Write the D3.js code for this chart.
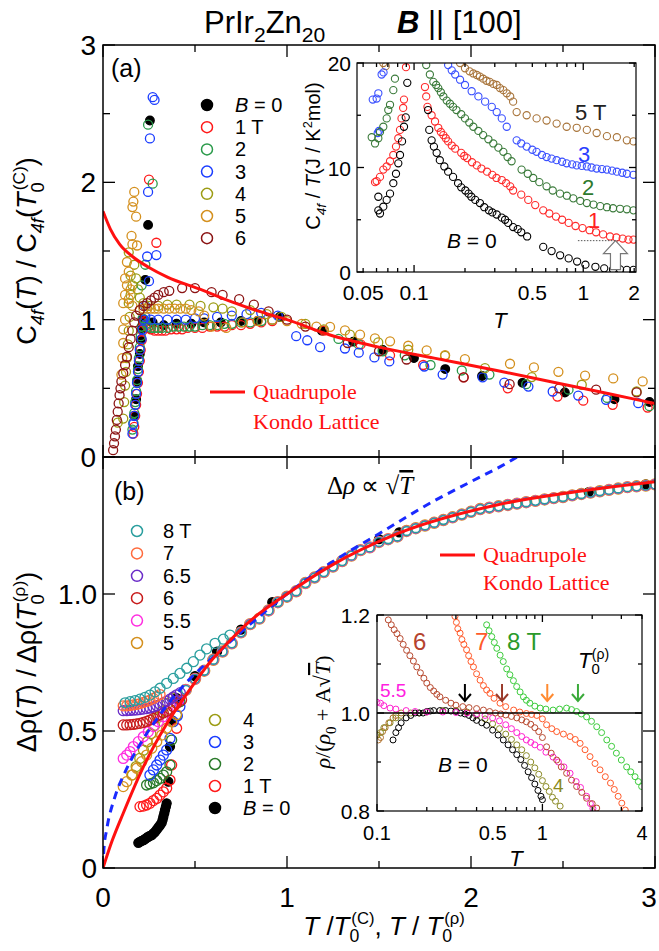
<!DOCTYPE html>
<html>
<head>
<meta charset="utf-8" />
<title>PrIr2Zn20</title>
<script src="https://d3js.org/d3.v7.min.js"></script>
<style>
  body { margin: 0; background: white; }
  svg text { font-family: "Liberation Sans", Arial, sans-serif; }
  .serif { font-family: "Liberation Serif", "Times New Roman", serif; }
</style>
</head>
<body>
<svg id="viz" width="659" height="951"></svg>
<script>

// ---------- panel (a): C4f(T)/C4f(T0) vs T/T0 ----------
var capB0 = [[0.17,0.3],[0.18,0.42],[0.185,0.55],[0.19,0.66],[0.2,0.75],[0.205,0.85],[0.21,0.93],[0.215,1.0],[0.23,1.29],
  [0.245,1.69],[0.255,2.45],[0.27,0.98],[0.33,0.96],[0.4,0.97],[0.48,0.97],[0.55,0.98],[0.64,0.98],[0.75,0.99],[0.84,0.99],
  [0.96,1.02],[1.19,0.92],[1.36,0.84],[1.52,0.78],[1.69,0.72],[1.86,0.64],[2.06,0.59],[2.28,0.54],[2.51,0.47],[2.78,0.42],[2.97,0.4]];
var cap1T = [[0.165,0.17],[0.17,0.22],[0.175,0.3],[0.18,0.38],[0.185,0.46],[0.19,0.54],[0.195,0.62],[0.2,0.7],[0.205,0.78],
  [0.21,0.85],[0.215,0.92],[0.22,0.98],[0.25,2.02],[0.29,1.56],[0.225,0.99],[0.235,0.96],[0.245,0.94],[0.26,0.93],[0.28,0.92],
  [0.3,0.92],[0.32,0.92],[0.34,0.92],[0.37,0.93],[0.4,0.93],[0.43,0.93],[0.46,0.94],[0.5,0.94],[0.54,0.94],[0.58,0.95],
  [0.62,0.95],[0.66,0.95],[0.7,0.96],[0.75,0.96],[0.8,0.97],[0.86,0.98],[0.92,0.99],[1.2,0.92],[1.4,0.82],[1.56,0.74],
  [1.74,0.67],[1.96,0.58],[2.2,0.5],[2.47,0.44],[2.61,0.41],[2.77,0.38],[2.96,0.36]];
var cap2T = [[0.16,0.2],[0.165,0.25],[0.17,0.32],[0.175,0.4],[0.18,0.48],[0.185,0.56],[0.19,0.64],[0.195,0.72],[0.2,0.8],
  [0.205,0.88],[0.21,0.95],[0.215,1.01],[0.245,2.42],[0.27,1.99],[0.23,1.4],[0.21,1.25],[0.225,1.0],[0.235,0.97],[0.245,0.95],
  [0.26,0.94],[0.28,0.94],[0.3,0.94],[0.32,0.94],[0.35,0.94],[0.38,0.95],[0.41,0.95],[0.44,0.95],[0.47,0.95],[0.5,0.95],
  [0.54,0.96],[0.58,0.96],[0.62,0.96],[0.66,0.97],[0.7,0.97],[0.75,0.98],[0.8,0.98],[0.86,0.99],[0.92,1.0],[1.28,0.86],
  [1.39,0.82],[1.52,0.77],[1.64,0.74],[1.78,0.67],[1.95,0.63],[2.1,0.6],[2.3,0.53],[2.53,0.49],[2.74,0.43],[2.97,0.37]];
var cap3T = [[0.16,0.17],[0.165,0.24],[0.17,0.3],[0.175,0.38],[0.18,0.46],[0.185,0.54],[0.19,0.62],[0.195,0.7],[0.2,0.78],
  [0.21,0.86],[0.215,0.93],[0.22,1.0],[0.27,2.62],[0.28,2.6],[0.255,2.32],[0.245,1.93],[0.24,1.46],[0.29,1.47],[0.25,1.28],
  [0.23,1.1],[0.23,1.02],[0.26,1.0],[0.3,1.0],[0.35,1.0],[0.4,1.0],[0.45,1.0],[0.5,1.01],[0.55,1.01],[0.62,1.02],[0.7,1.03],
  [0.78,1.04],[0.86,1.05],[0.95,1.03],[1.05,0.88],[1.11,0.85],[1.18,0.8],[1.315,0.79],[1.39,0.76],[1.475,0.725],[1.556,0.696],
  [1.746,0.659],[1.846,0.6],[2.063,0.58],[2.181,0.542],[2.312,0.513],[2.444,0.477],[2.583,0.447],[2.734,0.416],[2.909,0.392]];
var cap4T = [[0.08,0.25],[0.11,0.28],[0.115,0.4],[0.12,0.52],[0.125,0.62],[0.13,0.72],[0.135,0.82],[0.14,0.92],[0.145,1.02],
  [0.14,1.12],[0.15,1.18],[0.16,1.25],[0.15,1.32],[0.14,1.49],[0.17,1.4],[0.18,1.3],[0.19,1.22],[0.2,1.16],[0.22,1.12],
  [0.25,1.1],[0.3,1.1],[0.35,1.11],[0.4,1.11],[0.47,1.11],[0.53,1.1],[0.6,1.09],[0.65,1.08],[0.7,1.06],[0.8,1.07],[0.89,1.04],
  [0.97,1.02],[1.1,0.97],[1.2,0.93],[1.342,0.891],[1.496,0.834],[1.659,0.781],[1.859,0.737],[2.076,0.647],[2.33,0.582],
  [2.602,0.526],[2.9,0.477]];
var cap5T = [[0.17,1.93],[0.165,1.86],[0.16,1.82],[0.18,1.75],[0.155,1.61],[0.16,1.55],[0.185,1.54],[0.13,1.42],[0.14,1.35],
  [0.12,1.3],[0.13,1.25],[0.12,1.18],[0.11,1.12],[0.14,1.15],[0.15,1.22],[0.16,1.1],[0.1,0.6],[0.105,0.72],[0.11,0.83],
  [0.11,0.93],[0.12,1.0],[0.2,1.07],[0.22,1.08],[0.24,1.08],[0.26,1.08],[0.28,1.08],[0.3,1.08],[0.33,1.08],[0.36,1.08],
  [0.39,1.08],[0.42,1.08],[0.45,1.08],[0.48,1.07],[0.52,1.06],[0.55,1.03],[0.59,0.95],[0.67,0.94],[0.76,0.98],[0.84,0.99],
  [0.92,1.0],[1.0,0.99],[1.08,0.97],[1.16,0.95],[1.234,0.947],[1.315,0.922],[1.397,0.891],[1.478,0.864],[1.56,0.842],
  [1.659,0.81],[1.759,0.776],[1.859,0.742],[1.967,0.713],[2.212,0.679],[2.342,0.652],[2.475,0.62],[2.62,0.593],
  [2.773,0.572],[2.933,0.55]];
var cap6T = [[0.055,0.05],[0.06,0.1],[0.065,0.15],[0.07,0.2],[0.075,0.27],[0.08,0.33],[0.085,0.39],[0.09,0.45],[0.095,0.5],
  [0.1,0.55],[0.11,0.61],[0.12,0.67],[0.13,0.73],[0.14,0.8],[0.15,0.86],[0.16,0.92],[0.17,0.98],[0.18,1.03],[0.2,1.07],
  [0.22,1.1],[0.24,1.12],[0.26,1.14],[0.28,1.16],[0.3,1.18],[0.33,1.2],[0.36,1.21],[0.43,1.23],[0.5,1.23],[0.59,1.2],
  [0.65,1.18],[0.74,1.15],[0.82,1.11],[0.9,1.06],[1.0,1.0],[1.1,0.95],[1.33,0.83],[1.5,0.77],[1.65,0.71],[1.96,0.58],
  [2.21,0.53],[2.48,0.5],[2.68,0.49],[2.9,0.47]];
var qklA = [[0,1.79],[0.04,1.66],[0.09,1.55],[0.16,1.46],[0.25,1.38],[0.35,1.31],[0.53,1.22],[0.7,1.13],[0.85,1.06],
  [1.0,1.0],[1.23,0.89],[1.5,0.8],[1.8,0.72],[2.14,0.63],[2.5,0.53],[2.75,0.46],[3.0,0.39]];

// ---------- inset (a): C4f/T vs T ----------
var insA_B0 = [[0.0615,7.2],[0.0615,5.9],[0.0629,5.6],[0.0658,6.25],[0.0689,6.9],[0.0721,7.5],[0.0754,8.5],[0.0782,9.4],
  [0.0807,10.4],[0.0826,11.2],[0.0849,12.5],[0.0872,13.9],[0.0893,14.8],[0.0912,18.1],[0.121,15.5],[0.123,13.6],[0.127,12.6],
  [0.131,12.0],[0.136,11.4],[0.142,10.7],[0.151,10.1],[0.159,9.6],[0.17,9.1],[0.182,8.5],[0.19,8.1],[0.201,7.8],[0.21,7.5],
  [0.218,7.2],[0.23,6.9],[0.245,6.6],[0.26,6.2],[0.277,5.9],[0.29,5.7],[0.308,5.5],[0.33,5.2],[0.345,5.0],[0.36,4.7],
  [0.385,4.3],[0.41,4.1],[0.43,3.8],[0.466,3.4],[0.58,2.4],[0.65,2.0],[0.73,1.6],[0.82,1.3],[0.92,1.0],[1.03,0.7],
  [1.18,0.5],[1.33,0.35],[1.5,0.25],[1.65,0.25],[1.81,0.2],[1.98,0.2]];
var insA_1T = [[0.0588,8.6],[0.0601,8.7],[0.0629,9.1],[0.0658,9.8],[0.0689,10.1],[0.0721,10.6],[0.0754,11.2],[0.0782,12.0],
  [0.0807,12.8],[0.0826,13.6],[0.0843,14.7],[0.0862,15.7],[0.0872,16.5],[0.0896,19.6],[0.116,17.7],[0.118,16.8],[0.12,15.8],
  [0.127,15.0],[0.133,14.4],[0.139,13.8],[0.144,13.4],[0.149,13.1],[0.154,12.8],[0.159,12.5],[0.167,12.1],[0.175,11.8],
  [0.19,11.4],[0.198,11.1],[0.206,10.9],[0.22,10.5],[0.235,10.2],[0.25,9.9],[0.27,9.6],[0.29,9.3],[0.307,9.0],[0.33,8.8],
  [0.35,8.5],[0.37,8.2],[0.385,7.8],[0.43,7.4],[0.473,6.9],[0.52,6.4],[0.58,5.9],[0.63,5.6],[0.69,5.3],[0.75,5.0],
  [0.82,4.7],[0.9,4.4],[0.99,4.2],[1.09,4.0],[1.19,3.8],[1.31,3.6],[1.44,3.4],[1.57,3.3],[1.71,3.2],[1.85,3.1],[1.98,3.1]];
var insA_2T = [[0.0562,12.9],[0.0588,12.3],[0.0615,12.8],[0.0629,13.4],[0.0658,13.9],[0.0689,14.7],[0.0704,15.5],
  [0.0721,16.0],[0.0754,17.4],[0.0771,18.5],[0.118,19.8],[0.124,18.9],[0.13,18.2],[0.135,17.9],[0.139,17.6],[0.144,17.2],
  [0.149,16.8],[0.156,16.4],[0.163,16.1],[0.17,15.8],[0.178,15.5],[0.19,15.1],[0.2,14.7],[0.212,14.3],[0.224,13.9],
  [0.24,13.5],[0.256,13.1],[0.275,12.7],[0.294,12.3],[0.315,11.9],[0.337,11.5],[0.357,11.0],[0.377,10.6],[0.432,9.8],
  [0.47,9.4],[0.506,9.0],[0.55,8.6],[0.607,8.2],[0.66,7.8],[0.729,7.5],[0.8,7.3],[0.873,7.05],[0.96,6.8],[1.05,6.6],
  [1.15,6.45],[1.26,6.3],[1.38,6.2],[1.5,6.1],[1.65,6.05],[1.81,6.0],[1.98,5.9]];
var insA_3T = [[0.057,16.5],[0.0601,16.6],[0.0615,17.1],[0.0643,18.9],[0.066,19.1],[0.061,13.3],[0.062,13.5],
  [0.159,19.8],[0.167,19.3],[0.175,18.9],[0.187,18.4],[0.2,17.9],[0.219,17.3],[0.24,16.8],[0.263,16.3],[0.288,15.8],
  [0.308,15.3],[0.33,14.7],[0.353,13.9],[0.404,12.6],[0.43,12.3],[0.463,12.0],[0.5,11.7],[0.53,11.5],[0.57,11.2],
  [0.607,11.0],[0.65,10.85],[0.696,10.7],[0.75,10.55],[0.798,10.4],[0.86,10.3],[0.915,10.2],[0.98,10.15],[1.05,10.1],
  [1.12,10.0],[1.2,9.9],[1.29,9.85],[1.38,9.8],[1.48,9.7],[1.58,9.6],[1.7,9.5],[1.81,9.4],[1.98,9.3]];
var insA_5T = [[0.0658,20.0],[0.068,19.7],[0.187,20.0],[0.2,19.5],[0.213,19.2],[0.224,19.0],[0.235,18.85],[0.245,18.7],
  [0.256,18.5],[0.268,18.3],[0.28,18.2],[0.294,18.0],[0.308,17.9],[0.322,17.6],[0.337,17.4],[0.353,17.1],[0.37,16.8],
  [0.385,16.3],[0.404,15.3],[0.463,15.0],[0.53,14.7],[0.607,14.5],[0.696,14.2],[0.798,13.9],[0.915,13.8],[1.05,13.6],
  [1.2,13.3],[1.38,13.0],[1.58,12.9],[1.81,12.6],[1.98,12.5]];

// ---------- panel (b): Δρ(T)/Δρ(T0) vs T/T0 ----------
var rhoCollapse = [[0.45,0.65],[0.5,0.69],[0.55,0.72],[0.6,0.76],[0.65,0.79],[0.7,0.82],[0.75,0.86],[0.8,0.89],[0.85,0.91],
  [0.9,0.94],[0.95,0.97],[1.0,0.99],[1.05,1.01],[1.1,1.04],[1.15,1.06],[1.2,1.08],[1.25,1.1],[1.3,1.12],[1.35,1.14],
  [1.4,1.16],[1.45,1.17],[1.5,1.19],[1.55,1.2],[1.6,1.21],[1.65,1.23],[1.7,1.24],[1.75,1.25],[1.8,1.26],[1.85,1.27],
  [1.9,1.28],[1.95,1.29],[2.0,1.3],[2.05,1.31],[2.1,1.315],[2.15,1.32],[2.2,1.325],[2.25,1.33],[2.3,1.335],[2.35,1.34],
  [2.4,1.345],[2.45,1.35],[2.5,1.354],[2.55,1.36],[2.6,1.365],[2.65,1.37],[2.7,1.375],[2.75,1.38],[2.8,1.385],[2.85,1.39],
  [2.9,1.393],[2.95,1.396],[3.0,1.4]];
var rhoB0 = [[0.192,0.092],[0.2,0.095],[0.21,0.099],[0.22,0.102],[0.228,0.105],[0.237,0.11],[0.246,0.114],[0.255,0.117],
  [0.265,0.12],[0.274,0.126],[0.283,0.132],[0.292,0.14],[0.301,0.148],[0.31,0.156],[0.319,0.165],[0.324,0.176],[0.328,0.187],
  [0.333,0.2],[0.337,0.212],[0.342,0.224],[0.346,0.236],[0.355,0.315],[0.364,0.443],[0.373,0.54],[0.4,0.62],[0.5,0.7],
  [0.62,0.79],[0.75,0.87],[0.92,0.97],[1.5,1.2],[1.61,1.225],[2.64,1.372],[2.95,1.4]];
var rho1T = [[0.201,0.224],[0.219,0.226],[0.237,0.23],[0.255,0.236],[0.274,0.246],[0.292,0.254],[0.31,0.266],[0.328,0.278],
  [0.346,0.291],[0.364,0.321],[0.373,0.376],[0.4,0.51]];
var rho2T = [[0.237,0.303],[0.255,0.307],[0.274,0.311],[0.292,0.319],[0.31,0.327],[0.328,0.339],[0.346,0.351],[0.364,0.376],
  [0.373,0.467],[0.4,0.558],[0.418,0.607]];
var rho3T = [[0.255,0.339],[0.274,0.358],[0.292,0.376],[0.31,0.394],[0.328,0.412],[0.346,0.431],[0.364,0.473],[0.382,0.534],
  [0.404,0.555],[0.418,0.589]];
var rho4T = [[0.16,0.34],[0.18,0.37],[0.2,0.4],[0.22,0.43],[0.24,0.46],[0.26,0.49],[0.28,0.52],[0.3,0.55],[0.32,0.57],
  [0.35,0.6],[0.38,0.62]];
var rho5T = [[0.11,0.297],[0.129,0.315],[0.156,0.339],[0.183,0.364],[0.21,0.388],[0.237,0.412],[0.265,0.437],[0.292,0.461],
  [0.319,0.485],[0.346,0.51],[0.373,0.534],[0.4,0.56]];
var rho55T = [[0.11,0.4],[0.129,0.412],[0.147,0.425],[0.165,0.443],[0.192,0.461],[0.219,0.479],[0.246,0.497],[0.274,0.516],
  [0.301,0.534],[0.328,0.552],[0.355,0.57],[0.382,0.589],[0.41,0.61]];
var rho6T = [[0.11,0.522],[0.129,0.522],[0.147,0.523],[0.165,0.524],[0.183,0.526],[0.201,0.528],[0.219,0.531],[0.237,0.535],
  [0.255,0.54],[0.274,0.546],[0.292,0.554],[0.31,0.56],[0.328,0.566],[0.346,0.572],[0.364,0.58],[0.382,0.589],[0.4,0.6],
  [0.427,0.613]];
var rho65T = [[0.11,0.574],[0.129,0.574],[0.147,0.575],[0.165,0.576],[0.183,0.577],[0.201,0.578],[0.219,0.58],[0.237,0.582],
  [0.255,0.584],[0.274,0.588],[0.292,0.592],[0.31,0.597],[0.328,0.603],[0.346,0.609],[0.364,0.616],[0.382,0.624],
  [0.4,0.632],[0.42,0.64]];
var rho7T = [[0.11,0.592],[0.129,0.592],[0.147,0.593],[0.165,0.595],[0.183,0.597],[0.201,0.6],[0.219,0.604],[0.237,0.608],
  [0.255,0.613],[0.274,0.619],[0.292,0.626],[0.31,0.633]];
var rho8T = [[0.12,0.603],[0.147,0.607],[0.174,0.611],[0.201,0.616],[0.228,0.623],[0.255,0.631],[0.283,0.643],[0.31,0.656],
  [0.346,0.674],[0.382,0.692],[0.418,0.71],[0.455,0.729],[0.491,0.753],[0.527,0.777],[0.563,0.8],[0.609,0.82],
  [0.654,0.835],[0.69,0.85]];
var qklB = [[0,0],[0.05,0.1],[0.11,0.2],[0.22,0.37],[0.35,0.53],[0.46,0.64],[0.58,0.75],[0.69,0.83],[0.78,0.89],[1.0,1.0],
  [1.23,1.1],[1.6,1.22],[2.14,1.325],[2.59,1.375],[3.0,1.41]];
var sqrtB = [[0,0],[0.005,0.07],[0.02,0.14],[0.065,0.26],[0.12,0.35],[0.2,0.45],[0.31,0.56],[0.43,0.66],[0.6,0.77],
  [0.8,0.89],[1.0,1.0],[1.23,1.11],[1.5,1.22],[1.8,1.34],[2.0,1.41],[2.2,1.48],[2.25,1.5]];

// ---------- inset (b): ρ/(ρ0 + A√T) vs T ----------
var insB_B0 = [[0.125,0.945],[0.13,0.96],[0.135,0.97],[0.14,0.98],[0.15,0.99],[0.16,0.995],[0.17,1.0],[0.18,1.0],[0.19,1.0],
  [0.2,1.003],[0.21,1.004],[0.22,1.005],[0.24,1.005],[0.26,1.005],[0.28,1.004],[0.3,1.003],[0.32,1.0],[0.34,0.998],
  [0.36,0.995],[0.38,0.99],[0.4,0.985],[0.43,0.98],[0.46,0.975],[0.5,0.965],[0.54,0.955],[0.58,0.945],[0.62,0.935],
  [0.66,0.925],[0.7,0.915],[0.74,0.905],[0.78,0.893],[0.82,0.88],[0.86,0.868],[0.9,0.855],[0.94,0.842],[0.98,0.83],[1.0,0.823]];
var insB_4T = [[0.1,0.955],[0.105,0.96],[0.11,0.97],[0.12,0.98],[0.13,0.99],[0.14,0.995],[0.16,1.0],[0.18,1.0],[0.2,1.002],
  [0.25,1.005],[0.3,1.005],[0.35,1.002],[0.4,0.995],[0.45,0.988],[0.5,0.978],[0.55,0.968],[0.6,0.957],[0.65,0.946],
  [0.7,0.935],[0.75,0.925],[0.8,0.913],[0.85,0.9],[0.9,0.888],[0.95,0.875],[1.0,0.862],[1.05,0.85],[1.1,0.84],[1.15,0.828],
  [1.2,0.82],[1.28,0.81]];
var insB_5T = [[0.1,0.955],[0.102,0.945],[0.105,0.95],[0.108,0.962],[0.112,0.97],[0.118,0.98],[0.125,0.99],[0.13,0.995],
  [0.14,1.0]];
var insB_55T = [[0.1,1.022],[0.105,1.02],[0.11,1.015],[0.12,1.01],[0.13,1.008],[0.15,1.005],[0.17,1.003],[0.2,1.002],
  [0.25,1.002],[0.3,1.001],[0.35,1.0],[0.4,0.998],[0.45,0.995],[0.5,0.99],[0.55,0.984],[0.6,0.976],[0.65,0.968],[0.7,0.96],
  [0.75,0.952],[0.8,0.945],[0.85,0.94],[0.9,0.935],[0.97,0.93],[1.05,0.92],[1.16,0.91],[1.25,0.9],[1.35,0.89],[1.47,0.877],
  [1.6,0.86],[1.7,0.848],[1.85,0.83],[1.95,0.815],[2.02,0.805]];
var insB_6T = [[0.117,1.19],[0.122,1.18],[0.127,1.17],[0.132,1.162],[0.138,1.152],[0.144,1.14],[0.151,1.128],[0.158,1.117],
  [0.166,1.106],[0.174,1.094],[0.183,1.082],[0.192,1.071],[0.2,1.061],[0.21,1.052],[0.22,1.045],[0.23,1.038],[0.24,1.033],
  [0.26,1.026],[0.28,1.02],[0.3,1.016],[0.33,1.013],[0.36,1.011],[0.4,1.009],[0.44,1.006],[0.48,1.003],[0.52,1.0],
  [0.56,0.998],[0.6,0.996],[0.65,0.993],[0.7,0.99],[0.75,0.986],[0.8,0.982],[0.85,0.977],[0.9,0.97],[0.95,0.962],[1.0,0.95],
  [1.06,0.931],[1.13,0.918],[1.22,0.904],[1.3,0.89],[1.4,0.877],[1.5,0.863],[1.61,0.85],[1.73,0.838],[1.85,0.826],
  [2.0,0.815],[2.13,0.806]];
var insB_7T = [[0.296,1.197],[0.302,1.185],[0.308,1.172],[0.318,1.163],[0.326,1.15],[0.335,1.14],[0.348,1.129],[0.358,1.117],
  [0.37,1.105],[0.383,1.094],[0.4,1.08],[0.42,1.067],[0.44,1.056],[0.46,1.047],[0.482,1.04],[0.51,1.03],[0.554,1.02],
  [0.6,1.013],[0.67,1.006],[0.73,1.002],[0.8,0.999],[0.86,0.997],[0.925,0.995],[1.0,0.988],[1.06,0.976],[1.14,0.968],
  [1.22,0.962],[1.34,0.957],[1.47,0.952],[1.58,0.946],[1.69,0.938],[1.81,0.925],[1.94,0.911],[2.08,0.897],[2.23,0.884],
  [2.4,0.87],[2.58,0.857],[2.72,0.844],[2.87,0.83],[3.02,0.816],[3.17,0.802]];
var insB_8T = [[0.46,1.18],[0.476,1.168],[0.494,1.156],[0.512,1.144],[0.53,1.132],[0.555,1.118],[0.58,1.105],[0.608,1.09],
  [0.636,1.078],[0.668,1.066],[0.699,1.054],[0.733,1.043],[0.768,1.033],[0.8,1.026],[0.84,1.02],[0.9,1.014],[0.97,1.01],
  [1.05,1.008],[1.16,1.006],[1.27,1.008],[1.4,1.01],[1.5,1.007],[1.61,1.003],[1.72,0.998],[1.85,0.992],[1.98,0.983],
  [2.13,0.972],[2.28,0.96],[2.45,0.945],[2.62,0.932],[2.8,0.918],[3.0,0.904],[3.23,0.89],[3.42,0.88],[3.63,0.87],
  [3.8,0.86],[3.98,0.85]];
var insB_T0 = [0.34, 0.57, 1.07, 1.64];   // arrows: B=0, 6, 7, 8 T

// tick labels
var mainXTicks = [0, 1, 2, 3];
var capYTicks = [0, 1, 2, 3];
var rhoYTicks = [0, 0.5, 1.0];
var insAXTicks = [0.05, 0.1, 0.5, 1, 2];
var insAYTicks = [0, 10, 20];
var insBXTicks = [0.1, 0.5, 1, 4];
var insBYTicks = [0.8, 1.0, 1.2];

var svg = d3.select("#viz");

// scales
var x = d3.scaleLinear().domain([0, 3]).range([103, 655]);
var yA = d3.scaleLinear().domain([0, 3]).range([457, 45]);
var yB = d3.scaleLinear().domain([0, 1.5]).range([868, 457]);
var xIa = d3.scaleLog().domain([0.046, 2.05]).range([357, 636]);
var yIa = d3.scaleLinear().domain([0, 20]).range([272, 63]);
var xIb = d3.scaleLog().domain([0.1, 4]).range([377, 642]);
var yIb = d3.scaleLinear().domain([0.8, 1.2]).range([811, 615]);

var defs = svg.append("defs");
function clip(id, x0, y0, w, h) {
  defs.append("clipPath").attr("id", id).append("rect")
    .attr("x", x0).attr("y", y0).attr("width", w).attr("height", h);
}
clip("clipA", 103, 45, 552, 412);
clip("clipB", 103, 457, 552, 411);
clip("clipIa", 357, 63, 279, 209);
clip("clipIb", 377, 615, 265, 196);

// rich text: parts = [text, flags, dx]; flags: i italic, b bold, _ sub, ^ sup, o overline
function rich(sel, fs, parts) {
  var cur = 0;
  parts.forEach(function(p) {
    var f = p[1] || "", off = 0, size = fs;
    if (f.indexOf("_") >= 0) { off = 0.28 * fs; size = 0.68 * fs; }
    if (f.indexOf("^") >= 0) { off = -0.42 * fs; size = 0.64 * fs; }
    var t = sel.append("tspan").text(p[0]).attr("font-size", size).attr("dy", off - cur);
    if (p[2]) t.attr("dx", p[2]);
    if (f.indexOf("i") >= 0) t.attr("font-style", "italic");
    if (f.indexOf("b") >= 0) t.attr("font-weight", "bold");
    if (f.indexOf("o") >= 0) t.style("text-decoration", "overline");
    cur = off;
  });
  return sel;
}

function dots(g, data, sx, sy, color, r, filled, sw) {
  g.selectAll(null).data(data).enter().append("circle")
    .attr("cx", function(d) { return sx(d[0]); })
    .attr("cy", function(d) { return sy(d[1]); })
    .attr("r", r)
    .attr("fill", filled ? color : "none")
    .attr("stroke", color)
    .attr("stroke-width", sw || 1.3);
}

function curve(g, data, sx, sy, color, w, dash) {
  var line = d3.line().x(function(d) { return sx(d[0]); }).y(function(d) { return sy(d[1]); })
    .curve(d3.curveMonotoneX);
  var p = g.append("path").datum(data).attr("d", line).attr("fill", "none")
    .attr("stroke", color).attr("stroke-width", w);
  if (dash) p.attr("stroke-dasharray", dash);
}

// ticks drawn inward on all four sides of a frame
function ticks(sx, sy, xt, yt, x0, x1, y0, y1) {
  var g = svg.append("g").attr("stroke", "black").attr("stroke-width", 1.3);
  xt.forEach(function(t) {
    var X = sx(t[0]), L = t[1];
    g.append("line").attr("x1", X).attr("x2", X).attr("y1", y1).attr("y2", y1 - L);
    g.append("line").attr("x1", X).attr("x2", X).attr("y1", y0).attr("y2", y0 + L);
  });
  yt.forEach(function(t) {
    var Y = sy(t[0]), L = t[1];
    g.append("line").attr("x1", x0).attr("x2", x0 + L).attr("y1", Y).attr("y2", Y);
    g.append("line").attr("x1", x1).attr("x2", x1 - L).attr("y1", Y).attr("y2", Y);
  });
}

var red = "#ff1010";

// ================= panel (a) =================
var gA = svg.append("g").attr("clip-path", "url(#clipA)");
dots(gA, capB0, x, yA, "#000", 4.3, true);
dots(gA, cap1T, x, yA, "#ff1a1a", 4.5, false);
dots(gA, cap2T, x, yA, "#2a9a4a", 4.5, false);
dots(gA, cap3T, x, yA, "#1a3cff", 4.5, false);
dots(gA, cap4T, x, yA, "#9c9c14", 4.5, false);
dots(gA, cap5T, x, yA, "#d4901e", 4.5, false);
dots(gA, cap6T, x, yA, "#8b1414", 4.5, false);
curve(gA, qklA, x, yA, red, 3);

// ================= panel (b) =================
var gB = svg.append("g").attr("clip-path", "url(#clipB)");
var hiB = rhoCollapse.filter(function(d) { return d[0] > 0.42; });
dots(gB, rhoB0, x, yB, "#000", 4.5, true);
dots(gB, rho1T, x, yB, "#ff1a1a", 5, false);
dots(gB, rho2T, x, yB, "#2a7a2a", 5, false);
dots(gB, rho3T, x, yB, "#1a3cff", 5, false);
dots(gB, rho4T, x, yB, "#9c9c14", 5, false);
dots(gB, rho5T, x, yB, "#d4901e", 5, false);
dots(gB, hiB, x, yB, "#d4901e", 5.4, false, 1.6);
dots(gB, rho55T, x, yB, "#ff2ee0", 5, false);
dots(gB, hiB, x, yB, "#ff2ee0", 4.9, false, 1.4);
dots(gB, rho6T, x, yB, "#c81c1c", 5, false);
dots(gB, rho65T, x, yB, "#6a2cc8", 5, false);
dots(gB, rho7T, x, yB, "#ff6a3c", 5, false);
dots(gB, rho8T, x, yB, "#2a9e9e", 5, false);
dots(gB, hiB, x, yB, "#2a9e9e", 4.4, false, 1.6);
curve(gB, sqrtB, x, yB, "#1a2aff", 3, "8,6");
curve(gB, qklB, x, yB, red, 3);

// frames
svg.append("rect").attr("x", 103).attr("y", 45).attr("width", 552).attr("height", 412)
  .attr("fill", "none").attr("stroke", "black").attr("stroke-width", 1.5);
svg.append("rect").attr("x", 103).attr("y", 457).attr("width", 552).attr("height", 411)
  .attr("fill", "none").attr("stroke", "black").attr("stroke-width", 1.5);

var xMain = [[0,12],[0.5,7],[1,12],[1.5,7],[2,12],[2.5,7],[3,12]];
ticks(x, yA, xMain, [[0,12],[0.5,7],[1,12],[1.5,7],[2,12],[2.5,7],[3,12]], 103, 655, 45, 457);
ticks(x, yB, xMain, [[0,12],[0.5,12],[1,12],[1.5,12]], 103, 655, 457, 868);

// main tick labels
svg.selectAll(null).data(mainXTicks).enter().append("text")
  .attr("x", function(d) { return Math.min(x(d), 649); }).attr("y", 907).attr("text-anchor", "middle")
  .attr("font-size", 28).text(function(d) { return d; });
svg.selectAll(null).data(capYTicks).enter().append("text")
  .attr("x", 96).attr("y", function(d) { return yA(d) + 10; }).attr("text-anchor", "end")
  .attr("font-size", 28).text(function(d) { return d; });
svg.selectAll(null).data(rhoYTicks).enter().append("text")
  .attr("x", 97).attr("y", function(d) { return yB(d) + 10; }).attr("text-anchor", "end")
  .attr("font-size", 28).text(function(d) { return d === 0 ? "0" : d.toFixed(1); });

// axis titles
rich(svg.append("text").attr("text-anchor", "middle").attr("transform", "translate(36,251) rotate(-90)"), 27,
  [["C"], ["4f", "_i"], ["("], ["T", "i"], [") / C"], ["4f", "_i"], ["("], ["T", "i"], ["0", "_"], ["(C)", "^", -8], [")"]]);
rich(svg.append("text").attr("text-anchor", "middle").attr("transform", "translate(36,662) rotate(-90)"), 27,
  [["Δρ("], ["T", "i"], [") / Δρ("], ["T", "i"], ["0", "_"], ["(ρ)", "^", -8], [")"]]);
rich(svg.append("text").attr("text-anchor", "middle").attr("x", 384).attr("y", 935), 26,
  [["T", "i"], [" /"], ["T", "i"], ["0", "_"], ["(C)", "^", -8], [", "], ["T", "i"], [" / "], ["T", "i"], ["0", "_"], ["(ρ)", "^", -8]]);

// title
rich(svg.append("text").attr("x", 204).attr("y", 33), 31, [["PrIr"], ["2", "_"], ["Zn"], ["20", "_"]]);
rich(svg.append("text").attr("x", 397).attr("y", 33), 31, [["B", "ib"], [" || [100]"]]);

// panel letters
svg.append("text").attr("x", 111).attr("y", 77).attr("font-size", 25).text("(a)");
svg.append("text").attr("x", 114).attr("y", 500).attr("font-size", 25).text("(b)");

// legend (a)
var legA = [["B = 0", "#000", true], ["1 T", "#ff1a1a"], ["2", "#2a9a4a"], ["3", "#1a3cff"], ["4", "#9c9c14"],
  ["5", "#d4901e"], ["6", "#8b1414"]];
legA.forEach(function(d, i) {
  var Y = 105 + i * 22.2;
  svg.append("circle").attr("cx", 207).attr("cy", Y).attr("r", 5.5)
    .attr("fill", d[2] ? d[1] : "none").attr("stroke", d[1]).attr("stroke-width", 1.5);
  var t = svg.append("text").attr("x", 235).attr("y", Y + 7).attr("font-size", 20);
  if (i === 0) rich(t, 20, [["B", "i"], [" = 0"]]); else t.text(d[0]);
});

// legend (b)
var legB1 = [["8 T", "#2a9e9e"], ["7", "#ff6a3c"], ["6.5", "#6a2cc8"], ["6", "#c81c1c"], ["5.5", "#ff2ee0"], ["5", "#d4901e"]];
legB1.forEach(function(d, i) {
  var Y = 531 + i * 22.4;
  svg.append("circle").attr("cx", 137).attr("cy", Y).attr("r", 5.5)
    .attr("fill", "none").attr("stroke", d[1]).attr("stroke-width", 1.5);
  svg.append("text").attr("x", 163).attr("y", Y + 7).attr("font-size", 20).text(d[0]);
});
var legB2 = [["4", "#9c9c14"], ["3", "#1a3cff"], ["2", "#2a7a2a"], ["1 T", "#ff1a1a"], ["B = 0", "#000", true]];
legB2.forEach(function(d, i) {
  var Y = 720 + i * 22;
  svg.append("circle").attr("cx", 215).attr("cy", Y).attr("r", 5.5)
    .attr("fill", d[2] ? d[1] : "none").attr("stroke", d[1]).attr("stroke-width", 1.5);
  var t = svg.append("text").attr("x", 243).attr("y", Y + 7).attr("font-size", 20);
  if (d[2]) rich(t, 20, [["B", "i"], [" = 0"]]); else t.text(d[0]);
});

// Quadrupole Kondo Lattice legends
function qkl(x0, y0, gap) {
  svg.append("line").attr("x1", x0).attr("x2", x0 + 35).attr("y1", y0).attr("y2", y0)
    .attr("stroke", red).attr("stroke-width", 3);
  svg.append("text").attr("class", "serif").attr("x", x0 + 43).attr("y", y0 + 7).attr("font-size", 22)
    .attr("fill", red).text("Quadrupole");
  svg.append("text").attr("class", "serif").attr("x", x0 + 43).attr("y", y0 + 7 + gap).attr("font-size", 22)
    .attr("fill", red).text("Kondo Lattice");
}
qkl(210, 392, 30);
qkl(440, 555, 28);

rich(svg.append("text").attr("class", "serif").attr("x", 327).attr("y", 494), 25,
  [["Δ"], ["ρ", "i"], [" ∝ √"], ["T", "io"]]);

// ================= inset (a) =================
svg.append("rect").attr("x", 357).attr("y", 63).attr("width", 279).attr("height", 209).attr("fill", "white");
var gIa = svg.append("g").attr("clip-path", "url(#clipIa)");
dots(gIa, insA_5T, xIa, yIa, "#a8743a", 3.6, false, 1.1);
dots(gIa, insA_3T, xIa, yIa, "#3a50ff", 3.6, false, 1.1);
dots(gIa, insA_2T, xIa, yIa, "#3a7a3a", 3.6, false, 1.1);
dots(gIa, insA_1T, xIa, yIa, "#ff2a2a", 3.6, false, 1.1);
dots(gIa, insA_B0, xIa, yIa, "#000", 3.6, false, 1.1);
svg.append("rect").attr("x", 357).attr("y", 63).attr("width", 279).attr("height", 209)
  .attr("fill", "none").attr("stroke", "black").attr("stroke-width", 1.2);
var iaX = [0.05,0.06,0.07,0.08,0.09,0.1,0.2,0.3,0.4,0.5,0.6,0.7,0.8,0.9,1,2].map(function(v) {
  return [v, (v === 0.1 || v === 1) ? 7 : 4]; });
ticks(xIa, yIa, iaX, [[0,7],[5,4],[10,7],[15,4],[20,7]], 357, 636, 63, 272);
svg.selectAll(null).data(insAXTicks).enter().append("text")
  .attr("x", function(d) { return xIa(d); }).attr("y", 300).attr("text-anchor", "middle")
  .attr("font-size", 21).text(function(d) { return d; });
svg.selectAll(null).data(insAYTicks).enter().append("text")
  .attr("x", 351).attr("y", function(d) { return yIa(d) + 8; }).attr("text-anchor", "end")
  .attr("font-size", 21).text(function(d) { return d; });
rich(svg.append("text").attr("x", 500).attr("y", 328).attr("text-anchor", "middle"), 22, [["T", "i"]]);
rich(svg.append("text").attr("text-anchor", "middle").attr("transform", "translate(320,156) rotate(-90)"), 20,
  [["C"], ["4f", "_i"], [" / "], ["T", "i"], ["(J / K"], ["2", "^"], ["mol)"]]);
svg.append("text").attr("x", 575).attr("y", 120).attr("font-size", 22).attr("fill", "#222").text("5 T");
svg.append("text").attr("x", 578).attr("y", 162).attr("font-size", 22).attr("fill", "#2a40ff").text("3");
svg.append("text").attr("x", 582).attr("y", 195).attr("font-size", 22).attr("fill", "#2e7a2e").text("2");
svg.append("text").attr("x", 588).attr("y", 228).attr("font-size", 22).attr("fill", "#ff2020").text("1");
rich(svg.append("text").attr("x", 447).attr("y", 248), 21, [["B", "i"], [" = 0"]]);
svg.append("line").attr("x1", xIa(0.93)).attr("x2", xIa(1.6)).attr("y1", yIa(3)).attr("y2", yIa(3))
  .attr("stroke", "#555").attr("stroke-width", 1).attr("stroke-dasharray", "1.5,1.5");
var ax = xIa(1.55), ay = yIa(3);
svg.append("path")
  .attr("d", "M" + ax + "," + ay + " L" + (ax + 12) + "," + (ay + 13) + " L" + (ax + 5) + "," + (ay + 13) +
    " L" + (ax + 5) + "," + (ay + 29) + " L" + (ax - 5) + "," + (ay + 29) + " L" + (ax - 5) + "," + (ay + 13) +
    " L" + (ax - 12) + "," + (ay + 13) + " Z")
  .attr("fill", "white").attr("stroke", "#777").attr("stroke-width", 1.2);

// ================= inset (b) =================
svg.append("rect").attr("x", 377).attr("y", 615).attr("width", 265).attr("height", 196).attr("fill", "white");
var gIb = svg.append("g").attr("clip-path", "url(#clipIb)");
dots(gIb, insB_5T, xIb, yIb, "#b0702a", 3, false, 1);
dots(gIb, insB_4T, xIb, yIb, "#8c8c28", 3, false, 1);
dots(gIb, insB_B0, xIb, yIb, "#000", 3, false, 1);
dots(gIb, insB_55T, xIb, yIb, "#ff20d0", 3, false, 1);
dots(gIb, insB_6T, xIb, yIb, "#b84a30", 3, false, 1);
dots(gIb, insB_8T, xIb, yIb, "#3ccc3c", 3, false, 1);
dots(gIb, insB_7T, xIb, yIb, "#ff5a2a", 3, false, 1);
svg.append("line").attr("x1", 377).attr("x2", 642).attr("y1", yIb(1)).attr("y2", yIb(1))
  .attr("stroke", "black").attr("stroke-width", 1.5);
svg.append("rect").attr("x", 377).attr("y", 615).attr("width", 265).attr("height", 196)
  .attr("fill", "none").attr("stroke", "black").attr("stroke-width", 1.2);
var ibX = [0.1,0.2,0.3,0.4,0.5,0.6,0.7,0.8,0.9,1,2,3,4].map(function(v) {
  return [v, (v === 0.1 || v === 1) ? 7 : 4]; });
ticks(xIb, yIb, ibX, [[0.8,7],[0.9,4],[1.0,7],[1.1,4],[1.2,7]], 377, 642, 615, 811);
svg.selectAll(null).data(insBXTicks).enter().append("text")
  .attr("x", function(d) { return xIb(d); }).attr("y", 840).attr("text-anchor", "middle")
  .attr("font-size", 20).text(function(d) { return d; });
svg.selectAll(null).data(insBYTicks).enter().append("text")
  .attr("x", 370).attr("y", function(d) { return yIb(d) + 8; }).attr("text-anchor", "end")
  .attr("font-size", 21).text(function(d) { return d.toFixed(1); });
rich(svg.append("text").attr("x", 516).attr("y", 866).attr("text-anchor", "middle"), 22, [["T", "i"]]);
rich(svg.append("text").attr("class", "serif").attr("text-anchor", "middle")
  .attr("transform", "translate(330,712) rotate(-90)"), 22,
  [["ρ", "i"], ["/(", ""], ["ρ", "i"], ["0", "_"], [" + A√", ""], ["T", "io"], [")"]]);
svg.append("text").attr("x", 413).attr("y", 650).attr("font-size", 24).attr("fill", "#b5432f").text("6");
svg.append("text").attr("x", 475).attr("y", 650).attr("font-size", 24).attr("fill", "#ff5a2a").text("7");
svg.append("text").attr("x", 507).attr("y", 650).attr("font-size", 24).attr("fill", "#2a9a2a").text("8 T");
svg.append("text").attr("x", 380).attr("y", 697).attr("font-size", 19).attr("fill", "#ff20e0").text("5.5");
svg.append("text").attr("x", 553).attr("y", 792).attr("font-size", 19).attr("fill", "#8a8a20").text("4");
rich(svg.append("text").attr("x", 438).attr("y", 772), 21, [["B", "i"], [" = 0"]]);
rich(svg.append("text").attr("x", 578).attr("y", 668), 22, [["T", "i"], ["0", "_"], ["(ρ)", "^", -8]]);
var arrowCols = ["#000", "#9a3a2a", "#ff8a30", "#3aaa3a"];
insB_T0.forEach(function(t, i) {
  var X = xIb(t), c = arrowCols[i];
  svg.append("line").attr("x1", X).attr("x2", X).attr("y1", 684).attr("y2", 701)
    .attr("stroke", c).attr("stroke-width", 2);
  svg.append("path").attr("d", "M" + (X - 6) + ",694 L" + X + ",701 L" + (X + 6) + ",694")
    .attr("fill", "none").attr("stroke", c).attr("stroke-width", 2);
});

</script>
</body>
</html>
